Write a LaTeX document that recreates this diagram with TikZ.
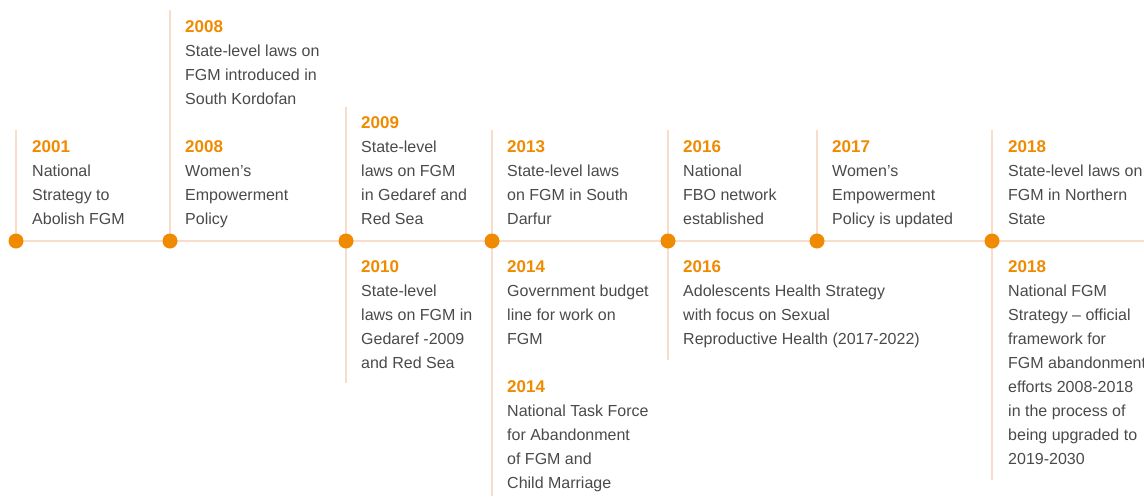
\documentclass[tikz,border=0pt]{standalone}
\usepackage{fontspec}
\setmainfont{Liberation Sans}
\usepackage{xcolor}
\definecolor{tl-orange}{HTML}{F08A00}
\definecolor{tl-line}{HTML}{FADCCC}
\definecolor{tl-text}{HTML}{4A4A4A}
\newcommand{\yr}[1]{{\color{tl-orange}\fontsize{17}{24}\selectfont\bfseries #1}}

\begin{document}
\begin{tikzpicture}[x=1pt, y=-1pt,
    every node/.style={font=\fontsize{16}{24}\selectfont, text=tl-text},
    entry/.style={anchor=north west, align=left, inner sep=0pt},
    dot/.style={circle, fill=tl-orange, minimum size=15pt, inner sep=0pt},
    stem/.style={draw=tl-line, line width=1.5pt}]
    \useasboundingbox (0,0) rectangle (1144,496);

    % points on the time line
    \coordinate (p1) at (16,241);
    \coordinate (p2) at (170,241);
    \coordinate (p3) at (346,241);
    \coordinate (p4) at (492,241);
    \coordinate (p5) at (668,241);
    \coordinate (p6) at (817,241);
    \coordinate (p7) at (992,241);
    \coordinate (tend) at (1144,241);

    % ends of the stems
    \coordinate (t1) at (16,130);
    \coordinate (t2) at (170,10);
    \coordinate (t3) at (346,107);
    \coordinate (b3) at (346,383);
    \coordinate (t4) at (492,130);
    \coordinate (b4) at (492,496);
    \coordinate (t5) at (668,130);
    \coordinate (b5) at (668,360);
    \coordinate (t6) at (817,130);
    \coordinate (t7) at (992,130);
    \coordinate (b7) at (992,480);

    \draw[stem, line width=2pt] (p1) -- (tend);
    \draw[stem] (t1) -- (p1);
    \draw[stem] (t2) -- (p2);
    \draw[stem] (t3) -- (b3);
    \draw[stem] (t4) -- (b4);
    \draw[stem] (t5) -- (b5);
    \draw[stem] (t6) -- (p6);
    \draw[stem] (t7) -- (b7);

    \node[dot] (d1) at (p1) {};
    \node[dot] (d2) at (p2) {};
    \node[dot] (d3) at (p3) {};
    \node[dot] (d4) at (p4) {};
    \node[dot] (d5) at (p5) {};
    \node[dot] (d6) at (p6) {};
    \node[dot] (d7) at (p7) {};

    % above the line
    \node[entry] (e2001) at (32,140) {\yr{2001}\\National\\Strategy to\\Abolish FGM};
    \node[entry] (e2008a) at (185,20) {\yr{2008}\\State-level laws on\\FGM introduced in\\South Kordofan};
    \node[entry] (e2008b) at (185,140) {\yr{2008}\\Women’s\\Empowerment\\Policy};
    \node[entry] (e2009) at (361,116) {\yr{2009}\\State-level\\laws on FGM\\in Gedaref and\\Red Sea};
    \node[entry] (e2013) at (507,140) {\yr{2013}\\State-level laws\\on FGM in South\\Darfur};
    \node[entry] (e2016a) at (683,140) {\yr{2016}\\National\\FBO network\\established};
    \node[entry] (e2017) at (832,140) {\yr{2017}\\Women’s\\Empowerment\\Policy is updated};
    \node[entry] (e2018a) at (1008,140) {\yr{2018}\\State-level laws on\\FGM in Northern\\State};

    % below the line
    \node[entry] (e2010) at (361,260) {\yr{2010}\\State-level\\laws on FGM in\\Gedaref -2009\\and Red Sea};
    \node[entry] (e2014a) at (507,260) {\yr{2014}\\Government budget\\line for work on\\FGM};
    \node[entry] (e2014b) at (507,380) {\yr{2014}\\National Task Force\\for Abandonment\\of FGM and\\Child Marriage};
    \node[entry] (e2016b) at (683,260) {\yr{2016}\\Adolescents Health Strategy\\with focus on Sexual\\Reproductive Health (2017-2022)};
    \node[entry] (e2018b) at (1008,260) {\yr{2018}\\National FGM\\Strategy – official\\framework for\\FGM abandonment\\efforts 2008-2018\\in the process of\\being upgraded to\\2019-2030};
\end{tikzpicture}
\end{document}
